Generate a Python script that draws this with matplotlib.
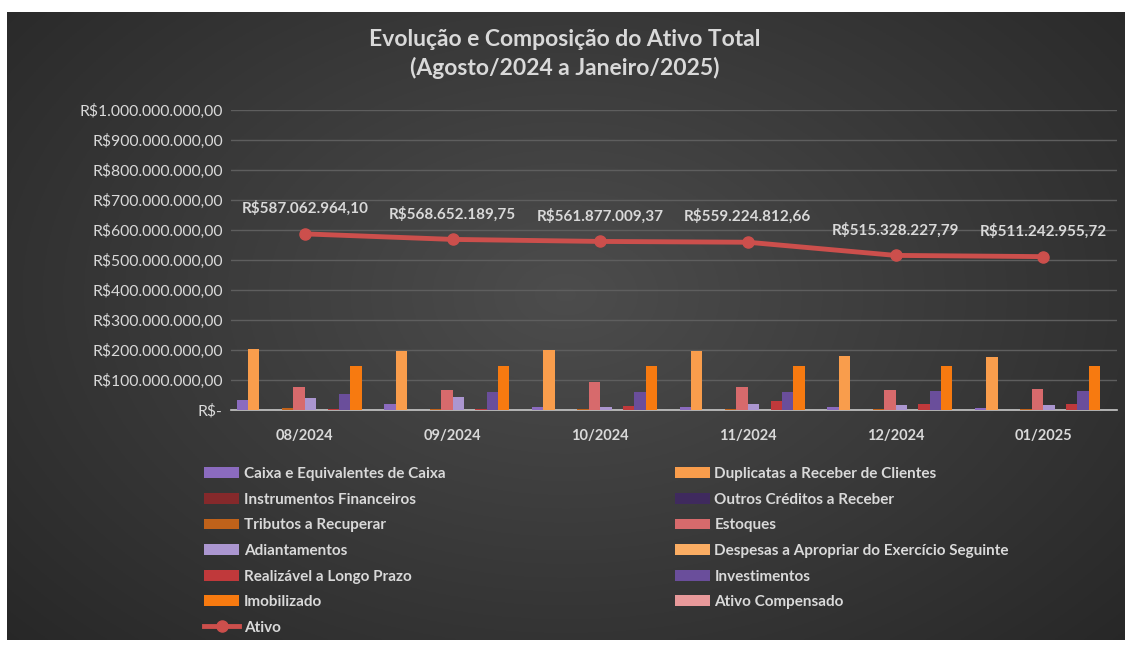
import matplotlib
matplotlib.use("Agg")
import matplotlib.pyplot as plt
import numpy as np
from matplotlib.ticker import FuncFormatter, MultipleLocator

plt.rcParams["font.family"] = ["Lato", "DejaVu Sans"]

months = ["08/2024", "09/2024", "10/2024", "11/2024", "12/2024", "01/2025"]

# values in millions of R$
caixa = [34, 19, 10, 9, 9, 6]
duplicatas = [202, 197, 200, 197, 180, 176]
instrumentos = [0.5, 0.5, 0.5, 0.5, 0.5, 0.5]
outros_creditos = [0.5, 0.5, 0.5, 0.5, 0.5, 0.5]
tributos = [6, 5, 5, 4, 4, 4]
estoques = [76, 67, 92, 76, 66, 69]
adiantamentos = [41, 44, 10, 20, 16, 16]
despesas = [1, 1, 1, 1, 1, 1]
realizavel_lp = [2, 2, 13, 29, 19, 19]
investimentos = [52, 59, 60, 60, 63, 63]
imobilizado = [148, 148, 148, 147, 146, 146]
ativo_compensado = [0, 0, 0, 0, 0, 0]
ativo = [587062964.10, 568652189.75, 561877009.37, 559224812.66,
         515328227.79, 511242955.72]

series = [
    ("Caixa e Equivalentes de Caixa", caixa, "#8b6bbf"),
    ("Duplicatas a Receber de Clientes", duplicatas, "#f99d4c"),
    ("Instrumentos Financeiros", instrumentos, "#85292b"),
    ("Outros Créditos a Receber", outros_creditos, "#3f2a5e"),
    ("Tributos a Recuperar", tributos, "#c0621a"),
    ("Estoques", estoques, "#d76a6c"),
    ("Adiantamentos", adiantamentos, "#ab96d0"),
    ("Despesas a Apropriar do Exercício Seguinte", despesas, "#fbad63"),
    ("Realizável a Longo Prazo", realizavel_lp, "#c0393b"),
    ("Investimentos", investimentos, "#6a4e9b"),
    ("Imobilizado", imobilizado, "#f77a10"),
    ("Ativo Compensado", ativo_compensado, "#e8999a"),
]

TXT = "#d9d9d9"


def brl(v, pos=None):
    if v == 0:
        return "R$-"
    s = f"{v:,.2f}".replace(",", "X").replace(".", ",").replace("X", ".")
    return "R$" + s


fig = plt.figure(figsize=(11.3, 6.45), dpi=100, facecolor="white")

# dark gradient background
bg = fig.add_axes([7 / 1130, 5 / 645, 1118 / 1130, 628 / 645], zorder=-5)
yy, xx = np.mgrid[0:1:300j, 0:1:500j]
r = np.sqrt(((xx - 0.5) / 0.75) ** 2 + ((yy - 0.45) / 0.9) ** 2)
shade = np.clip(0.30 - 0.16 * r, 0.14, 0.30)
bg.imshow(np.dstack([shade] * 3), aspect="auto", extent=[0, 1, 0, 1])
bg.axis("off")

ax = fig.add_axes([231 / 1130, 235 / 645, 886 / 1130, 300 / 645])
ax.set_facecolor("none")

x = np.arange(len(months))
n = len(series)
w = 0.077
handles = {}
for i, (name, vals, color) in enumerate(series):
    off = (i - (n - 1) / 2) * w
    bars = ax.bar(x + off, np.array(vals) * 1e6, width=w, color=color,
                  zorder=3, label=name)
    handles[name] = bars

line, = ax.plot(x, ativo, color="#cc4f4c", lw=3.5, marker="o", ms=8,
                zorder=5, label="Ativo")
handles["Ativo"] = line

for xi, v in zip(x, ativo):
    ax.annotate(brl(v), xy=(xi, v), xytext=(0, 13), textcoords="offset points",
                ha="center", va="bottom", fontsize=11, fontweight="bold",
                color=TXT, zorder=6)

ax.set_xlim(-0.5, len(months) - 0.5)
ax.set_ylim(0, 1e9)
ax.yaxis.set_major_locator(MultipleLocator(1e8))
ax.yaxis.set_major_formatter(FuncFormatter(brl))
ax.set_xticks(x)
ax.set_xticklabels(months, fontweight="bold")
ax.tick_params(axis="both", length=0, colors=TXT, labelsize=11.3)
ax.tick_params(axis="x", labelsize=10.5, pad=14)
ax.tick_params(axis="y", pad=6)
ax.grid(axis="y", color="#5e5e5e", lw=1, zorder=0)
for s in ["top", "right", "left"]:
    ax.spines[s].set_visible(False)
ax.spines["bottom"].set_color("#c8c8c8")
ax.spines["bottom"].set_linewidth(1.2)

fig.text(0.5, 1 - 40 / 645, "Evolução e Composição do Ativo Total",
         ha="center", va="center", fontsize=16.5, fontweight="bold", color=TXT)
fig.text(0.5, 1 - 68 / 645, "(Agosto/2024 a Janeiro/2025)",
         ha="center", va="center", fontsize=16.5, fontweight="bold", color=TXT)

left_col = ["Caixa e Equivalentes de Caixa", "Instrumentos Financeiros",
            "Tributos a Recuperar", "Adiantamentos", "Realizável a Longo Prazo",
            "Imobilizado", "Ativo"]
right_col = ["Duplicatas a Receber de Clientes", "Outros Créditos a Receber",
             "Estoques", "Despesas a Apropriar do Exercício Seguinte",
             "Investimentos", "Ativo Compensado"]
order = left_col + right_col
leg = fig.legend([handles[k] for k in order], order, loc="upper left",
                 bbox_to_anchor=(198 / 1130, 1 - 461 / 645), ncol=2,
                 frameon=False, handlelength=2.3,
                 handletextpad=0.3, columnspacing=15.0, labelspacing=0.76,
                 borderaxespad=0, prop={"weight": "bold", "size": 11})
for t in leg.get_texts():
    t.set_color(TXT)

fig.savefig("out.png", dpi=100, facecolor=fig.get_facecolor())
